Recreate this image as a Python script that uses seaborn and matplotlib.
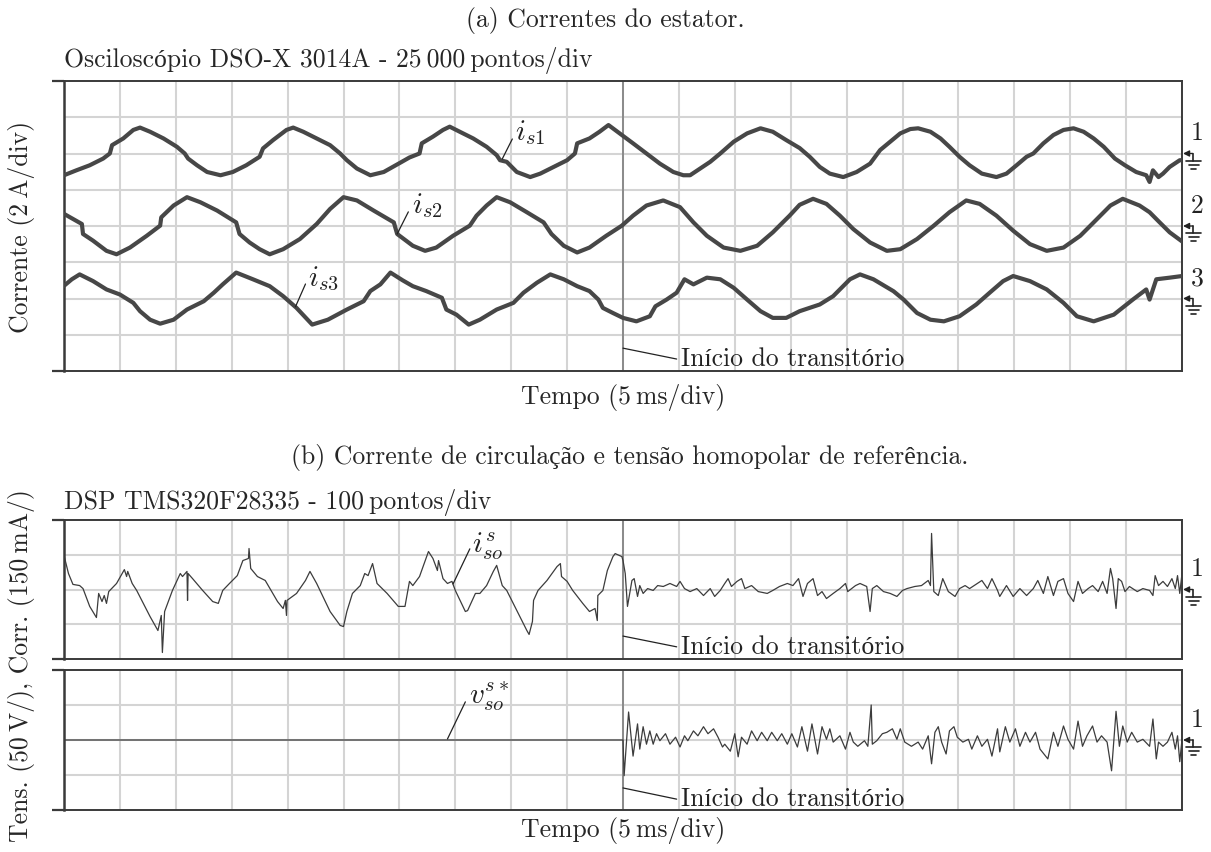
import numpy as np
import pandas as pd
import matplotlib
matplotlib.use("Agg")
import matplotlib.pyplot as plt
import seaborn as sns
from matplotlib.lines import Line2D

# ---------------- data (time in ms, 5 ms/div) ----------------
t_is1 = [0.0, 1.1, 2.3, 3.5, 4.1, 4.3, 5.3, 6.2, 6.8, 7.7,
         8.9, 10.1, 10.8, 11.1, 11.9, 12.8, 14.0, 15.1, 16.3, 17.5,
         17.8, 18.7, 19.9, 20.5, 21.4, 22.6, 23.8, 24.7, 25.3, 26.2,
         27.4, 28.6, 30.1, 30.9, 31.8, 32.0, 33.0, 33.9, 34.5, 35.4,
         36.6, 37.8, 38.7, 39.0, 39.6, 40.5, 41.7, 42.6, 43.8, 45.0,
         45.7, 45.9, 47.0, 47.9, 48.7, 49.7, 50.9, 52.1, 53.3, 54.5,
         55.4, 56.0, 56.9, 57.8, 58.7, 59.9, 61.1, 62.3, 63.4, 64.6,
         65.8, 66.7, 67.6, 68.5, 69.7, 70.9, 72.1, 73.0, 73.9, 74.8,
         75.7, 76.4, 77.5, 78.4, 79.2, 80.1, 81.0, 82.1, 83.4, 84.3,
         85.2, 86.1, 86.7, 87.6, 88.5, 89.4, 90.3, 91.2, 92.1, 93.0,
         94.0, 94.9, 95.9, 96.8, 97.1, 97.4, 97.9, 98.3, 98.9, 99.8,
         100.0]
is1_A = [-1.20, -0.93, -0.65, -0.28, 0.00, 0.46, 0.83, 1.30, 1.43, 1.20,
         0.83, 0.37, 0.00, -0.28, -0.65, -1.02, -1.20, -1.02, -0.65, -0.18,
         0.28, 0.74, 1.30, 1.43, 1.20, 0.83, 0.46, 0.00, -0.37, -0.83,
         -1.20, -1.02, -0.50, -0.22, 0.00, 0.56, 0.93, 1.30, 1.48, 1.20,
         0.83, 0.37, -0.09, -0.37, -0.46, -1.02, -1.30, -1.11, -0.74, -0.37,
         0.00, 0.56, 0.83, 1.20, 1.57, 1.11, 0.56, 0.00, -0.56, -1.02,
         -1.20, -1.20, -0.83, -0.46, 0.00, 0.65, 1.11, 1.39, 1.20, 0.74,
         0.30, -0.18, -0.74, -1.11, -1.30, -1.02, -0.56, 0.19, 0.65, 1.11,
         1.35, 1.39, 1.20, 0.83, 0.37, -0.18, -0.65, -1.11, -1.30, -1.11,
         -0.65, -0.18, 0.00, 0.56, 1.02, 1.30, 1.39, 1.20, 0.83, 0.37,
         -0.28, -0.65, -1.02, -1.20, -1.57, -0.93, -1.30, -1.11, -0.74, -0.37,
         -0.37]

t_is2 = [0.0, 0.8, 1.6, 1.7, 2.6, 3.8, 4.7, 5.9, 7.4, 8.6,
         8.7, 9.8, 11.0, 12.2, 13.7, 15.4, 15.7, 16.6, 17.5, 18.4,
         19.6, 21.1, 22.6, 23.8, 25.0, 26.2, 27.7, 29.5, 29.8, 31.2,
         32.3, 33.3, 34.8, 36.3, 36.9, 37.8, 38.7, 39.9, 41.4, 42.9,
         43.6, 44.7, 45.9, 47.0, 48.5, 49.9, 50.9, 52.1, 53.6, 55.1,
         56.3, 57.5, 59.0, 60.5, 62.0, 63.4, 64.9, 65.8, 67.0, 68.2,
         69.4, 70.6, 72.1, 73.6, 74.8, 76.3, 77.8, 79.2, 80.7, 81.9,
         83.4, 84.9, 86.4, 87.9, 89.4, 90.9, 92.1, 93.6, 94.7, 96.2,
         97.1, 98.0, 98.9, 100.0]
is2_A = [0.67, 0.39, 0.11, -0.44, -0.81, -1.37, -1.56, -1.19, -0.54, 0.02,
         0.48, 1.13, 1.59, 1.31, 0.85, 0.20, -0.44, -0.91, -1.28, -1.56,
         -1.28, -0.72, 0.11, 0.94, 1.59, 1.41, 0.85, 0.20, -0.44, -1.09,
         -1.37, -1.19, -0.54, 0.02, 0.57, 1.13, 1.59, 1.31, 0.76, 0.20,
         -0.44, -1.09, -1.46, -1.19, -0.54, 0.02, 0.57, 1.13, 1.41, 1.04,
         0.20, -0.54, -1.19, -1.37, -1.09, -0.35, 0.57, 1.17, 1.50, 1.22,
         0.57, -0.17, -0.91, -1.37, -1.28, -0.72, 0.02, 0.76, 1.41, 1.22,
         0.57, -0.26, -1.00, -1.37, -1.19, -0.54, 0.20, 1.13, 1.50, 1.13,
         0.76, 0.20, -0.35, -0.85]

t_is3 = [0.0, 0.7, 1.4, 2.6, 3.8, 5.0, 6.2, 6.8, 7.7, 8.6,
         9.8, 11.0, 12.5, 13.4, 14.2, 15.4, 16.9, 18.4, 19.6, 20.8,
         22.2, 23.6, 25.3, 26.8, 27.4, 28.3, 29.2, 30.3, 31.2, 32.4,
         33.8, 34.2, 35.1, 36.2, 37.2, 38.7, 40.2, 41.1, 42.3, 43.5,
         44.7, 45.9, 47.0, 47.8, 48.2, 49.1, 50.0, 51.2, 52.4, 52.9,
         53.9, 54.8, 55.5, 56.3, 57.5, 58.7, 59.9, 61.1, 62.3, 63.4,
         64.6, 65.8, 67.6, 68.8, 70.3, 71.2, 72.4, 74.2, 75.1, 76.3,
         77.5, 78.7, 80.1, 81.6, 82.8, 84.0, 84.9, 86.4, 87.9, 89.4,
         90.6, 92.1, 93.9, 95.6, 96.8, 97.1, 97.7, 98.9, 100.0]
is3_A = [0.70, 1.06, 1.33, 0.96, 0.50, 0.22, -0.24, -0.70, -1.17, -1.39,
         -1.17, -0.61, -0.15, 0.32, 0.78, 1.43, 1.06, 0.68, 0.13, -0.52,
         -1.44, -1.17, -0.61, -0.15, 0.41, 0.78, 1.43, 1.00, 0.68, 0.41,
         0.04, -0.61, -0.89, -1.44, -1.17, -0.61, -0.24, 0.32, 0.87, 1.33,
         1.06, 0.68, 0.41, -0.06, -0.52, -0.80, -1.07, -1.26, -0.98, -0.43,
         -0.06, 0.32, 1.06, 0.78, 1.15, 1.06, 0.59, -0.06, -0.70, -1.07,
         -1.07, -0.70, -0.33, 0.13, 1.06, 1.33, 1.06, 0.40, -0.06, -0.80,
         -1.17, -1.26, -0.98, -0.33, 0.32, 0.96, 1.24, 0.96, 0.50, -0.24,
         -0.98, -1.26, -0.89, -0.06, 0.50, -0.06, 1.06, 1.15, 1.24]

# circulating current i_so^s (mA), 150 mA/div
t_iso = [0.0, 0.4, 0.8, 1.4, 1.7, 2.3, 2.9, 3.1, 3.4, 3.6,
         3.8, 4.0, 4.7, 5.4, 5.6, 5.7, 6.1, 6.5, 7.7, 8.4,
         8.7, 8.8, 9.0, 9.7, 10.4, 10.6, 11.0, 11.05, 11.1, 11.5,
         12.4, 13.3, 13.8, 14.2, 14.8, 15.5, 16.0, 16.5, 16.55, 16.7,
         17.3, 18.0, 19.1, 19.6, 19.8, 19.9, 19.95, 20.8, 21.6, 22.0,
         22.6, 23.8, 24.7, 25.0, 25.3, 25.8, 26.5, 26.9, 27.2, 27.6,
         28.0, 28.9, 29.9, 30.5, 30.9, 31.2, 31.8, 32.6, 33.0, 33.4,
         33.5, 33.9, 34.3, 34.7, 35.0, 35.9, 36.1, 36.8, 37.2, 37.8,
         38.4, 38.7, 39.2, 39.6, 40.5, 41.4, 41.6, 41.9, 42.0, 42.4,
         43.2, 44.1, 44.4, 44.5, 45.0, 45.5, 46.4, 47.0, 47.5, 47.7,
         47.75, 48.2, 48.6, 49.1, 49.3, 49.9, 50.0, 50.2, 50.4, 50.8,
         51.0, 51.3, 51.5, 51.8, 52.2, 52.7, 53.1, 53.6, 54.2, 54.8,
         55.1, 55.5, 56.0, 56.6, 57.2, 57.8, 58.2, 58.7, 59.1, 59.4,
         59.7, 60.2, 60.6, 60.9, 61.5, 62.1, 62.9, 63.4, 64.0, 64.7,
         65.2, 65.7, 66.1, 66.5, 67.0, 67.4, 67.8, 68.2, 68.8, 69.4,
         69.9, 70.1, 70.8, 71.2, 71.8, 72.1, 72.3, 72.7, 73.3, 73.9,
         74.5, 75.0, 75.4, 76.1, 76.7, 77.3, 77.5, 77.6, 77.8, 78.2,
         78.6, 79.1, 79.7, 80.1, 80.6, 81.0, 81.7, 82.1, 82.6, 83.0,
         83.5, 83.7, 84.3, 84.9, 85.5, 86.1, 86.7, 87.1, 87.6, 88.0,
         88.5, 88.9, 89.4, 89.8, 90.3, 90.7, 91.1, 91.6, 92.0, 92.5,
         92.9, 93.3, 93.6, 93.8, 94.1, 94.3, 94.6, 94.9, 95.3, 96.0,
         96.5, 97.1, 97.4, 97.6, 97.9, 98.3, 98.7, 99.1, 99.4, 99.6,
         99.8, 100.0]
iso_mA = [147, 69, 22, 17, 4, -73, -121, -17, -52, -26,
          -60, -9, 26, 86, 56, 78, 26, -4, -117, -177,
          -112, -272, -95, -4, 69, 56, 78, -47, 69, 47,
          -4, -52, -60, -4, 26, 60, 125, 134, 177, 91,
          56, 39, -52, -82, -47, -112, -47, -17, 39, 78,
          26, -95, -155, -160, -95, -17, 17, 69, 60, 112,
          26, -17, -73, -73, 35, 17, 56, 164, 134, 82,
          125, 47, 26, 35, -4, -95, -91, -17, -17, 17,
          78, 104, 17, -4, -91, -177, -194, -138, -47, -4,
          39, 99, 112, 56, 35, -4, -60, -95, -82, -134,
          -26, -4, 82, 142, 155, 142, 125, 69, -73, 39,
          47, -30, 17, -17, 4, -4, 17, 13, 26, 13,
          35, 4, -9, 4, -26, 4, -30, -4, 26, 47,
          13, 35, 47, 4, 17, -9, -17, -4, 13, 26,
          17, 47, -30, 26, 47, -26, -9, -39, -17, 4,
          26, -9, 17, 26, 13, -95, 4, 17, -9, -17,
          -30, -4, 4, 13, 17, 39, 17, 242, -9, -26,
          47, -9, -30, 4, 17, 4, 26, 39, 4, 47,
          -4, -30, 17, -30, 4, -26, 4, 39, -17, 56,
          -26, 35, 47, -17, -52, 35, -17, 4, 17, -9,
          35, -17, 91, 47, -82, 47, 35, -9, 13, -9,
          4, -4, -26, 60, 17, 35, 13, 47, 4, 60,
          -17, 69]

# zero-sequence reference voltage v_so^{s*} (V), 50 V/div
t_vso = [0.0, 50.0, 50.1, 50.5, 50.9, 51.3, 51.5, 51.8, 52.1, 52.4,
         52.7, 53.0, 53.3, 53.8, 54.2, 54.7, 55.1, 55.5, 55.8, 56.3,
         56.7, 57.2, 57.6, 58.1, 58.5, 58.9, 59.1, 59.6, 60.0, 60.3,
         60.6, 61.1, 61.5, 62.0, 62.4, 62.9, 63.3, 63.8, 64.2, 64.7,
         65.1, 65.6, 66.0, 66.5, 66.9, 67.4, 67.8, 68.2, 68.5, 68.8,
         69.4, 69.9, 70.3, 70.6, 71.0, 71.6, 71.9, 72.2, 72.3, 72.7,
         73.2, 73.6, 74.1, 74.5, 74.8, 75.2, 75.8, 76.4, 76.8, 77.3,
         77.6, 77.9, 78.2, 78.5, 78.9, 79.2, 79.6, 79.9, 80.4, 80.9,
         81.2, 81.7, 82.1, 82.6, 83.0, 83.5, 83.7, 84.2, 84.6, 85.1,
         85.5, 86.0, 86.4, 86.9, 87.3, 88.0, 88.5, 88.9, 89.4, 89.8,
         90.3, 90.7, 91.1, 91.5, 92.0, 92.4, 92.8, 93.3, 93.7, 94.1,
         94.4, 94.7, 95.1, 95.5, 96.0, 96.5, 97.1, 97.4, 97.7, 97.9,
         98.3, 98.7, 99.1, 99.4, 99.6, 99.8, 100.0]
vso_V = [0, 0, -51, 40, -23, 23, -13, 19, -6, 13,
         -6, 9, -1, 9, -6, 4, -10, 6, -1, 13,
         6, 19, 9, 16, 4, -10, -6, -16, 9, -24,
         4, -6, 13, -1, 11, -1, 11, -1, 9, -6,
         9, -10, 19, -16, 23, -20, 19, 1, 16, -3,
         6, -13, 11, -3, -9, -1, -9, 50, -6, -1,
         9, 11, 16, 1, 16, -3, -9, -3, -13, 6,
         -34, 11, 19, -3, -20, 13, 19, 4, -3, 1,
         -13, 6, -9, 1, -23, 16, -17, 19, -3, 16,
         -9, 11, -3, 11, -13, -27, 11, -9, 20, 1,
         -13, 27, -9, 6, 20, -3, 6, -3, -44, 41,
         -9, 20, -3, 11, -3, 1, -9, 30, -27, -3,
         -9, -3, 11, -13, 6, -31, 1]

# scales / offsets (divisions)
A_PER_DIV = 2.0
MA_PER_DIV = 150.0
V_PER_DIV = 50.0
grounds = [6, 4, 2]
T_TRANS = 50.0

# ---------------- style ----------------
sns.set_theme(style="white")
plt.rcParams["font.family"] = ["cmr10", "Liberation Serif"]
plt.rcParams["mathtext.fontset"] = "cm"
plt.rcParams["axes.unicode_minus"] = False
plt.rcParams["axes.formatter.use_mathtext"] = True

W, H = 1211, 853
fig = plt.figure(figsize=(W / 100, H / 100), dpi=100)
fig.patch.set_facecolor("white")

def axpos(l, t, r, b):
    return [l / W, 1 - b / H, (r - l) / W, (b - t) / H]

ax_a = fig.add_axes(axpos(64, 82, 1182, 372))
ax_b1 = fig.add_axes(axpos(64, 521, 1182, 660))
ax_b2 = fig.add_axes(axpos(64, 671, 1182, 811))

GRID = "#d4d4d4"
SPINE = "#3a3a3a"
TRACE = "#474747"
FS = 18.5
FSM = 21

def style(ax, ylo, yhi):
    ax.set_facecolor("white")
    ax.set_xlim(0, 100)
    ax.set_ylim(ylo, yhi)
    ax.set_xticks([])
    ax.set_xticks(np.arange(0, 101, 5), minor=True)
    ax.set_yticks([ylo, yhi])
    ax.set_yticks(np.arange(ylo, yhi + 0.5, 1), minor=True)
    ax.grid(True, which="minor", color=GRID, lw=1.5)
    ax.grid(False, which="major")
    ax.set_axisbelow(True)
    ax.tick_params(axis="y", which="major", left=True, length=9, width=1.6,
                   color=SPINE, direction="out", labelleft=False)
    ax.tick_params(axis="both", which="minor", length=0)
    ax.tick_params(axis="x", which="both", bottom=False, labelbottom=False)
    for s in ax.spines.values():
        s.set_visible(True)
        s.set_color(SPINE)
        s.set_linewidth(1.4)
    ax.spines["left"].set_linewidth(1.8)
    ax.set_xlabel("")
    ax.set_ylabel("")
    ax.axvline(T_TRANS, color="#858585", lw=1.3, zorder=1.6)

style(ax_a, 0, 8)
style(ax_b1, -2, 2)
style(ax_b2, -2, 2)

# ---------------- traces ----------------
for tt, vals, g in [(t_is1, is1_A, grounds[0]), (t_is2, is2_A, grounds[1]),
                    (t_is3, is3_A, grounds[2])]:
    df = pd.DataFrame({"t": tt, "y": g + np.asarray(vals) / A_PER_DIV})
    sns.lineplot(data=df, x="t", y="y", ax=ax_a, color=TRACE, lw=3.0,
                 estimator=None, sort=False, legend=False, zorder=3)

df1 = pd.DataFrame({"t": t_iso, "y": np.asarray(iso_mA) / MA_PER_DIV})
sns.lineplot(data=df1, x="t", y="y", ax=ax_b1, color="#3c3c3c", lw=0.9,
             estimator=None, sort=False, legend=False, zorder=3)
df2 = pd.DataFrame({"t": t_vso, "y": np.asarray(vso_V) / V_PER_DIV})
sns.lineplot(data=df2, x="t", y="y", ax=ax_b2, color="#3c3c3c", lw=0.9,
             estimator=None, sort=False, legend=False, zorder=3)
for ax in (ax_a, ax_b1, ax_b2):
    ax.set_xlabel("")
    ax.set_ylabel("")

# ---------------- annotations ----------------
def leader(ax, p0, p1, txt, tpos, fs=FS):
    ax.plot([p0[0], p1[0]], [p0[1], p1[1]], color="#222222", lw=0.9, zorder=4)
    ax.text(tpos[0], tpos[1], txt, fontsize=fs, ha="left", va="center",
            color="#222222", zorder=5)

leader(ax_a, (39.2, 5.85), (40.1, 6.40), r"$i_{s1}$", (40.3, 6.62), FSM)
leader(ax_a, (29.8, 3.78), (30.8, 4.39), r"$i_{s2}$", (31.1, 4.60), FSM)
leader(ax_a, (20.7, 1.77), (21.6, 2.40), r"$i_{s3}$", (21.8, 2.58), FSM)
leader(ax_a, (50.0, 0.63), (54.8, 0.33), "Início do transitório", (55.2, 0.36))

leader(ax_b1, (34.8, 0.16), (36.3, 1.17), r"$i_{so}^{s}$", (36.5, 1.28), FSM)
leader(ax_b1, (50.0, -1.34), (54.8, -1.65), "Início do transitório", (55.2, -1.62))
leader(ax_b2, (34.3, 0.03), (35.9, 1.09), r"$v_{so}^{s*}$", (36.2, 1.26), FSM)
leader(ax_b2, (50.0, -1.37), (54.8, -1.69), "Início do transitório", (55.2, -1.66))

# channel markers with ground symbol
def channel(ax, yval, label):
    xd, yd = ax.transData.transform((100, yval))
    def fp(dx, dy):
        return ((xd + dx) / W, (yd + dy) / H)
    fig.patches.append(matplotlib.patches.FancyArrowPatch(
        fp(11, 0), fp(1, 0), transform=fig.transFigure, arrowstyle="-|>",
        mutation_scale=9, lw=1.0, color="#222222", shrinkA=0, shrinkB=0))
    segs = [((11, 0), (11, -7)), ((4, -7), (19, -7)), ((6.5, -11), (16.5, -11)),
            ((9, -15), (14, -15))]
    for a, b in segs:
        p, q = fp(*a), fp(*b)
        fig.add_artist(Line2D([p[0], q[0]], [p[1], q[1]], transform=fig.transFigure,
                              color="#222222", lw=1.2))
    lx, ly = fp(15, 21)
    fig.text(lx, ly, label, fontsize=FS, ha="center", va="center", color="#222222")

channel(ax_a, grounds[0], "1")
channel(ax_a, grounds[1], "2")
channel(ax_a, grounds[2], "3")
channel(ax_b1, 0, "1")
channel(ax_b2, 0, "1")

# ---------------- titles & labels ----------------
fig.text(605 / W, 1 - 20 / H, "(a) Correntes do estator.", fontsize=FS,
         ha="center", va="center")
fig.text(64 / W, 1 - 61 / H, "Osciloscópio DSO-X 3014A - 25\u2009000\u2009pontos/div",
         fontsize=FS, ha="left", va="center")
fig.text(623 / W, 1 - 398 / H, "Tempo (5\u2009ms/div)", fontsize=FS,
         ha="center", va="center")
fig.text(22 / W, 1 - 227 / H, "Corrente (2\u2009A/div)", fontsize=FS,
         ha="center", va="center", rotation=90)
fig.text(630 / W, 1 - 458 / H,
         "(b) Corrente de circulação e tensão homopolar de referência.",
         fontsize=FS, ha="center", va="center")
fig.text(64 / W, 1 - 502 / H, "DSP TMS320F28335 - 100\u2009pontos/div",
         fontsize=FS, ha="left", va="center")
fig.text(623 / W, 1 - 831 / H, "Tempo (5\u2009ms/div)", fontsize=FS,
         ha="center", va="center")
fig.text(22 / W, 1 - 666 / H, "Tens. (50\u2009V/), Corr. (150\u2009mA/)",
         fontsize=FS, ha="center", va="center", rotation=90)

fig.savefig("out.png", dpi=100, facecolor="white")
